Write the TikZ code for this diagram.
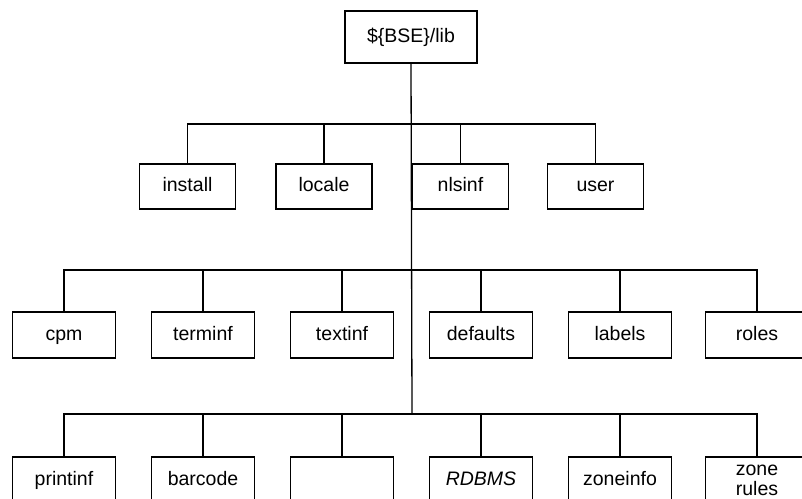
\documentclass[tikz,border=0pt]{standalone}
\usepackage{fontspec}
\setmainfont{Liberation Sans}
\usepackage{tikz}

\tikzset{
  dirbox/.style={draw, rectangle, line width=1.3pt, inner sep=0pt,
    minimum width=103pt, minimum height=46pt,
    text height=14pt, text depth=4pt,
    font=\fontsize{19.5}{22}\selectfont, align=center},
  smallbox/.style={dirbox, minimum width=96pt, minimum height=45pt},
  link/.style={line width=1.3pt}
}

\begin{document}
\begin{tikzpicture}[x=1pt,y=-1pt]
\useasboundingbox (0,0) rectangle (802,498);
\clip (0,0) rectangle (802,498);

\node[dirbox, minimum width=132pt, minimum height=52pt] (lib) at (411,37) {\$\{BSE\}/lib};

\coordinate (j1) at (412,124);
\coordinate (j2) at (412,270);
\coordinate (j3) at (412,414);
\draw[link] (lib.south) -- (j3);

\node[smallbox] (install) at (187.5,186.5) {install};
\node[smallbox] (locale) at (324,186.5) {locale};
\node[smallbox] (nlsinf) at (460.5,186.5) {nlsinf};
\node[smallbox] (user) at (595.5,186.5) {user};

\node[dirbox] (cpm) at (64,335) {cpm};
\node[dirbox] (terminf) at (203,335) {terminf};
\node[dirbox] (textinf) at (342,335) {textinf};
\node[dirbox] (defaults) at (481,335) {defaults};
\node[dirbox] (labels) at (620,335) {labels};
\node[dirbox] (roles) at (757,335) {roles};

\node[dirbox] (printinf) at (64,480) {printinf};
\node[dirbox] (barcode) at (203,480) {barcode};
\node[dirbox] (blank) at (342,480) {};
\node[dirbox] (rdbms) at (481,480) {\itshape RDBMS};
\node[dirbox] (zoneinfo) at (620,480) {zoneinfo};
\node[dirbox, text height=, text depth=, font=\fontsize{19.5}{20}\selectfont] (zonerules) at (757,480) {zone\\rules};

\foreach \n in {install,locale,nlsinf,user}
  \draw[link] (\n.north) |- (j1);
\foreach \n in {cpm,terminf,textinf,defaults,labels,roles}
  \draw[link] (\n.north) |- (j2);
\foreach \n in {printinf,barcode,blank,rdbms,zoneinfo,zonerules}
  \draw[link] (\n.north) |- (j3);
\end{tikzpicture}
\end{document}
